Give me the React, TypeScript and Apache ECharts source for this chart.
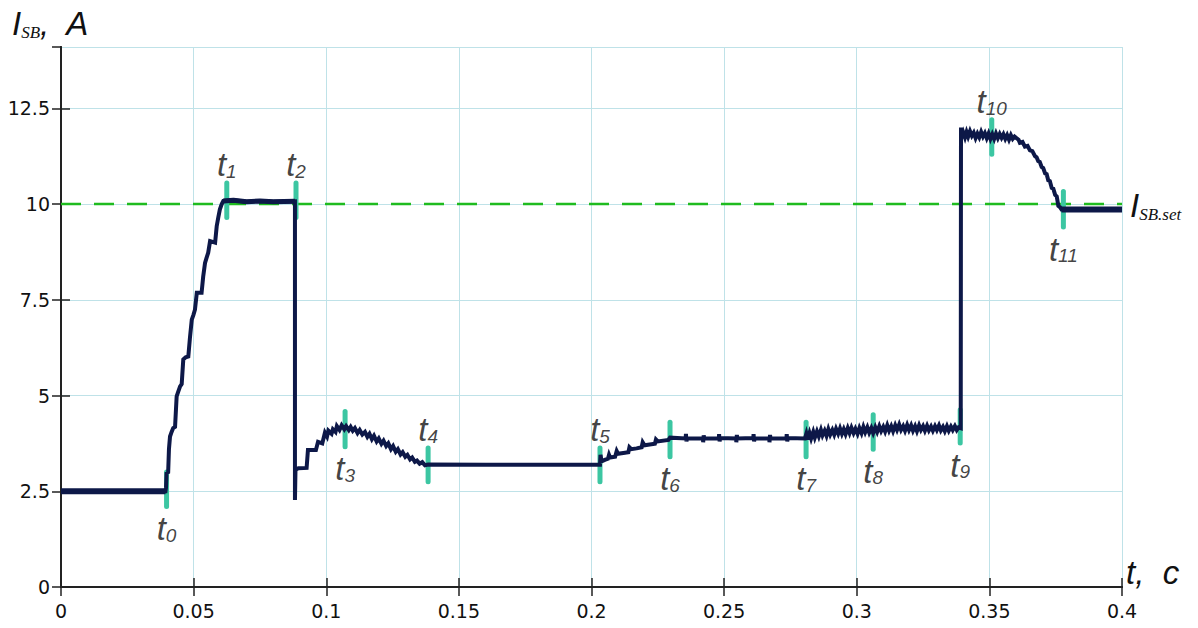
import React, { useEffect, useRef } from "react";
import * as echarts from "echarts";

// ---- data ----
const xTicks = [0, 0.05, 0.1, 0.15, 0.2, 0.25, 0.3, 0.35, 0.4];
const setpoint = [[0, 10], [0.4, 10]];

const startFlat = [[0, 2.5], [0.0394, 2.5]];
const holdFlat = [[0.0612, 10.08], [0.065, 10.1], [0.07, 10.06], [0.075, 10.08], [0.08, 10.06], [0.0882, 10.07]];
const endFlat = [[0.3772, 9.86], [0.4, 9.86]];

const current = [
  [0, 2.5], [0.0394, 2.5],
  // rise t0 -> t1
  [0.0396, 2.6], [0.0398, 2.97], [0.0404, 3.0], [0.0407, 3.6], [0.0411, 3.93], [0.0417, 4.05], [0.0423, 4.15], [0.043, 4.18],
  [0.0436, 4.98], [0.0442, 5.1], [0.0449, 5.24], [0.0455, 5.3], [0.0461, 5.94], [0.047, 6.0], [0.048, 6.02],
  [0.0486, 6.5], [0.0493, 6.98], [0.0499, 7.1], [0.0505, 7.24], [0.0512, 7.68], [0.053, 7.68], [0.0536, 8.1],
  [0.0543, 8.46], [0.0549, 8.6], [0.0555, 8.73], [0.0562, 9.03], [0.0581, 8.99], [0.0587, 9.42], [0.0593, 9.65],
  [0.0599, 9.86], [0.0606, 10.0], [0.0612, 10.08],
  // hold
  [0.065, 10.1], [0.07, 10.06], [0.075, 10.08], [0.08, 10.06], [0.0882, 10.07],
  // drop at t2
  [0.0882, 2.27], [0.0884, 3.06], [0.0895, 3.1], [0.0926, 3.11], [0.0931, 3.58], [0.0961, 3.58], [0.0969, 3.79],
  [0.0985, 3.75], [0.0995, 4.03], [0.1003, 3.93], [0.1008, 4.08], [0.102, 4.0], [0.1025, 4.12], [0.1035, 4.05],
  [0.104, 4.2], [0.105, 4.1], [0.1058, 4.22], [0.1068, 4.12], [0.1075, 4.2], [0.1085, 4.1], [0.1092, 4.18],
  [0.11, 4.08], [0.1108, 4.15], [0.1118, 4.02], [0.1126, 4.1], [0.1136, 3.98], [0.1146, 4.05], [0.1155, 3.92],
  [0.1163, 4.0], [0.1172, 3.86], [0.118, 3.95], [0.119, 3.8], [0.1198, 3.88], [0.1208, 3.74], [0.1216, 3.82],
  [0.1226, 3.68], [0.1234, 3.75], [0.1244, 3.6], [0.1252, 3.68], [0.1262, 3.53], [0.127, 3.6], [0.128, 3.46],
  [0.1288, 3.52], [0.1298, 3.4], [0.1306, 3.45], [0.1316, 3.33], [0.1324, 3.38], [0.1334, 3.27], [0.1342, 3.3],
  [0.1352, 3.22], [0.1362, 3.26], [0.1372, 3.18], [0.1384, 3.2],
  // plateau
  [0.16, 3.19], [0.18, 3.19], [0.2032, 3.19],
  // t5 -> t6
  [0.2034, 3.45], [0.2038, 3.28], [0.205, 3.32], [0.2062, 3.35], [0.2066, 3.45], [0.207, 3.38], [0.2089, 3.4],
  [0.2095, 3.55], [0.21, 3.48], [0.212, 3.5], [0.2139, 3.52], [0.2143, 3.65], [0.215, 3.6], [0.217, 3.62],
  [0.2189, 3.65], [0.2193, 3.78], [0.22, 3.7], [0.2239, 3.74], [0.2243, 3.85], [0.225, 3.8], [0.229, 3.84],
  [0.2296, 3.9],
  // t6 -> t7 with small spikes
  [0.2355, 3.88], [0.2356, 4.0], [0.2358, 3.8], [0.236, 3.88], [0.242, 3.88], [0.2421, 3.78], [0.2423, 3.96],
  [0.2425, 3.88], [0.248, 3.88], [0.2481, 3.99], [0.2483, 3.8], [0.2485, 3.89], [0.2545, 3.88], [0.2546, 3.78],
  [0.2548, 3.97], [0.255, 3.88], [0.261, 3.89], [0.2611, 3.99], [0.2613, 3.8], [0.2615, 3.88], [0.267, 3.88],
  [0.2671, 3.78], [0.2673, 3.97], [0.2675, 3.88], [0.2735, 3.88], [0.2736, 3.99], [0.2738, 3.8], [0.274, 3.89],
  [0.2805, 3.88],
  // t7 -> t9 noisy
  [0.281, 4.0], [0.2815, 3.85], [0.2822, 4.02], [0.2828, 3.88], [0.2836, 4.05], [0.2842, 3.9], [0.285, 4.06],
  [0.2857, 3.93], [0.2865, 4.1], [0.2871, 3.96], [0.2879, 4.08], [0.2886, 3.95], [0.2893, 4.12], [0.29, 3.98],
  [0.2908, 4.1], [0.2915, 3.98], [0.2922, 4.13], [0.293, 4.0], [0.2937, 4.14], [0.2944, 4.0], [0.2951, 4.12],
  [0.2958, 3.99], [0.2966, 4.15], [0.2973, 4.02], [0.298, 4.16], [0.2988, 4.02], [0.2995, 4.13], [0.3003, 4.0],
  [0.301, 4.15], [0.3018, 4.02], [0.3025, 4.18], [0.3032, 4.04], [0.304, 4.17], [0.3047, 4.03], [0.3055, 4.15],
  [0.3062, 4.02], [0.307, 4.17], [0.3077, 4.05], [0.3085, 4.2], [0.3092, 4.07], [0.31, 4.18], [0.3107, 4.06],
  [0.3115, 4.22], [0.3122, 4.08], [0.313, 4.2], [0.3137, 4.07], [0.3145, 4.22], [0.3152, 4.1], [0.316, 4.24],
  [0.3167, 4.1], [0.3175, 4.2], [0.3182, 4.08], [0.319, 4.23], [0.3197, 4.1], [0.3205, 4.22], [0.3212, 4.08],
  [0.322, 4.2], [0.3227, 4.07], [0.3235, 4.22], [0.3242, 4.1], [0.325, 4.2], [0.3257, 4.08], [0.3265, 4.21],
  [0.3272, 4.09], [0.328, 4.19], [0.3287, 4.08], [0.3295, 4.2], [0.3302, 4.1], [0.331, 4.22], [0.3317, 4.09],
  [0.3325, 4.18], [0.3332, 4.07], [0.334, 4.2], [0.3347, 4.08], [0.3355, 4.19], [0.3362, 4.1], [0.337, 4.2],
  [0.3377, 4.1], [0.3384, 4.17], [0.3392, 4.15],
  // jump at t9
  [0.3393, 12.0], [0.3396, 11.72], [0.3402, 11.86], [0.3408, 11.74], [0.3414, 11.88], [0.342, 11.76],
  [0.3427, 11.9], [0.3434, 11.78], [0.3441, 11.86], [0.3448, 11.72], [0.3455, 11.84], [0.3462, 11.74],
  [0.3469, 11.88], [0.3476, 11.76], [0.3483, 11.85], [0.349, 11.72], [0.3497, 11.84], [0.3504, 11.7],
  [0.3511, 11.82], [0.3518, 11.7], [0.3525, 11.84], [0.3532, 11.72], [0.3539, 11.83], [0.3546, 11.73],
  [0.3553, 11.82], [0.356, 11.7], [0.3567, 11.8], [0.3574, 11.68], [0.3581, 11.8], [0.3588, 11.7],
  [0.3595, 11.76], [0.361, 11.68],
  // fall t10 -> t11
  [0.3615, 11.6], [0.3625, 11.62], [0.3634, 11.5], [0.3644, 11.52], [0.3653, 11.4], [0.3662, 11.38],
  [0.3672, 11.25], [0.3678, 11.22], [0.3684, 11.12], [0.369, 11.1], [0.3697, 10.97], [0.3703, 10.94],
  [0.371, 10.8], [0.3716, 10.78], [0.3722, 10.62], [0.3728, 10.6], [0.3735, 10.42], [0.3741, 10.4],
  [0.3748, 10.24], [0.3754, 10.2], [0.376, 9.95], [0.3766, 9.92], [0.3772, 9.86], [0.4, 9.86],
];

const markerNames = ["0", "1", "2", "3", "4", "5", "6", "7", "8", "9", "10", "11"];
const markerTimes = [0.0398, 0.0625, 0.0886, 0.1071, 0.1384, 0.2032, 0.2296, 0.2809, 0.3062, 0.339, 0.3509, 0.3779];
const markerLow = [2.1, 9.65, 9.65, 3.66, 2.75, 2.75, 3.4, 3.4, 3.6, 3.76, 11.3, 9.4];
const markerHigh = [3.0, 10.55, 10.55, 4.58, 3.63, 3.63, 4.3, 4.3, 4.5, 4.63, 12.2, 10.33];
const labelSide = ["bottom", "top", "top", "bottom", "top", "top", "bottom", "bottom", "bottom", "bottom", "top", "bottom"];

const NAVY = "#0d1848";
const TEAL = "#3cc6a2";
const GREEN = "#1fbb1f";
const GRIDC = "#bfe2e8";
const TXT = "#111111";

export default function App() {
  const ref = useRef<HTMLDivElement>(null);
  useEffect(() => {
    document.body.style.margin = "0";
    const chart = echarts.init(ref.current!, null, { renderer: "svg" });

    const markerSeries = markerTimes.map((t, i) => ({
      type: "line",
      data: [[t, markerLow[i]], [t, markerHigh[i]]],
      symbol: "none",
      lineStyle: { color: TEAL, width: 5, cap: "round" },
      z: 3,
      silent: true,
    }));

    const labelData = markerTimes.map((t, i) => ({
      value: [t, labelSide[i] === "top" ? markerHigh[i] : markerLow[i]],
      label: {
        show: true,
        position: labelSide[i],
        distance: labelSide[i] === "top" ? 2 : 6,
        formatter: `{t|t}{s|${markerNames[i]}}`,
      },
    }));

    const axisBase = {
      type: "value",
      axisLine: { show: true, lineStyle: { color: "#222", width: 2 } },
      axisTick: { show: true, inside: true, length: 9, lineStyle: { color: "#222", width: 1.5 } },
    };

    chart.setOption({
      animation: false,
      backgroundColor: "#ffffff",
      grid: { left: 61, right: 76, top: 47, bottom: 41 },
      xAxis: [
        {
          ...axisBase,
          position: "bottom",
          min: 0,
          max: 0.4,
          interval: 0.05,
          axisLabel: {
            color: TXT,
            fontSize: 19,
            fontFamily: "DejaVu Sans",
            margin: 14,
            formatter: (v: number) => {
              const m = xTicks.find((x) => Math.abs(x - v) < 1e-9);
              return m === undefined ? "" : String(m);
            },
          },
          splitLine: { show: true, lineStyle: { color: GRIDC, width: 1 } },
        },
        {
          ...axisBase,
          position: "top",
          min: 0,
          max: 0.4,
          interval: 0.05,
          axisLabel: { show: false },
          splitLine: { show: false },
        },
      ],
      yAxis: [
        {
          ...axisBase,
          position: "left",
          min: 0,
          max: 14.1,
          interval: 2.5,
          axisLabel: {
            color: TXT,
            fontSize: 19,
            fontFamily: "DejaVu Sans",
            margin: 11,
            showMaxLabel: false,
          },
          splitLine: { show: true, lineStyle: { color: GRIDC, width: 1 } },
        },
        {
          ...axisBase,
          position: "right",
          min: 0,
          max: 14.1,
          interval: 2.5,
          axisLabel: { show: false },
          splitLine: { show: false },
        },
      ],
      series: [
        {
          type: "line",
          data: setpoint,
          symbol: "none",
          lineStyle: { color: GREEN, width: 2.5, type: [20, 13] },
          z: 2,
          silent: true,
        },
        {
          type: "line",
          data: current,
          symbol: "none",
          lineStyle: { color: NAVY, width: 4, join: "miter" },
          z: 4,
          silent: true,
        },
        {
          type: "line",
          data: startFlat,
          symbol: "none",
          lineStyle: { color: NAVY, width: 6 },
          z: 4,
          silent: true,
        },
        {
          type: "line",
          data: holdFlat,
          symbol: "none",
          lineStyle: { color: NAVY, width: 5 },
          z: 4,
          silent: true,
        },
        {
          type: "line",
          data: endFlat,
          symbol: "none",
          lineStyle: { color: NAVY, width: 6 },
          z: 4,
          silent: true,
        },
        ...markerSeries,
        {
          type: "scatter",
          data: labelData,
          symbolSize: 0,
          z: 6,
          silent: true,
          label: {
            rich: {
              t: { fontSize: 33, fontStyle: "italic", fontFamily: "Liberation Sans", color: TXT, lineHeight: 32 },
              s: { fontSize: 19, fontStyle: "italic", fontFamily: "Liberation Sans", color: TXT, verticalAlign: "bottom", lineHeight: 22 },
            },
          },
        },
      ],
      graphic: [
        {
          type: "text",
          left: 12,
          top: 7,
          style: {
            text: "{i|I}{s|SB}{a|,  A}",
            rich: {
              i: { fontSize: 33, fontStyle: "italic", fontFamily: "Liberation Sans", fill: TXT, lineHeight: 34 },
              s: { fontSize: 17, fontStyle: "italic", fontFamily: "Liberation Serif", fill: TXT, verticalAlign: "bottom", lineHeight: 24 },
              a: { fontSize: 33, fontStyle: "italic", fontFamily: "Liberation Sans", fill: TXT, lineHeight: 34 },
            },
          },
        },
        {
          type: "text",
          left: 1130,
          top: 189,
          style: {
            text: "{i|I}{s|SB.set}",
            rich: {
              i: { fontSize: 33, fontStyle: "italic", fontFamily: "Liberation Sans", fill: TXT, lineHeight: 34 },
              s: { fontSize: 17, fontStyle: "italic", fontFamily: "Liberation Serif", fill: TXT, verticalAlign: "bottom", lineHeight: 26 },
            },
          },
        },
        {
          type: "text",
          left: 1126,
          top: 556,
          style: {
            text: "t,  c",
            fontSize: 33,
            fontStyle: "italic",
            fontFamily: "Liberation Sans",
            fill: TXT,
          },
        },
      ],
    });
    return () => chart.dispose();
  }, []);
  return <div ref={ref} style={{ position: "absolute", left: 0, top: 0, width: 1198, height: 628 }} />;
}
